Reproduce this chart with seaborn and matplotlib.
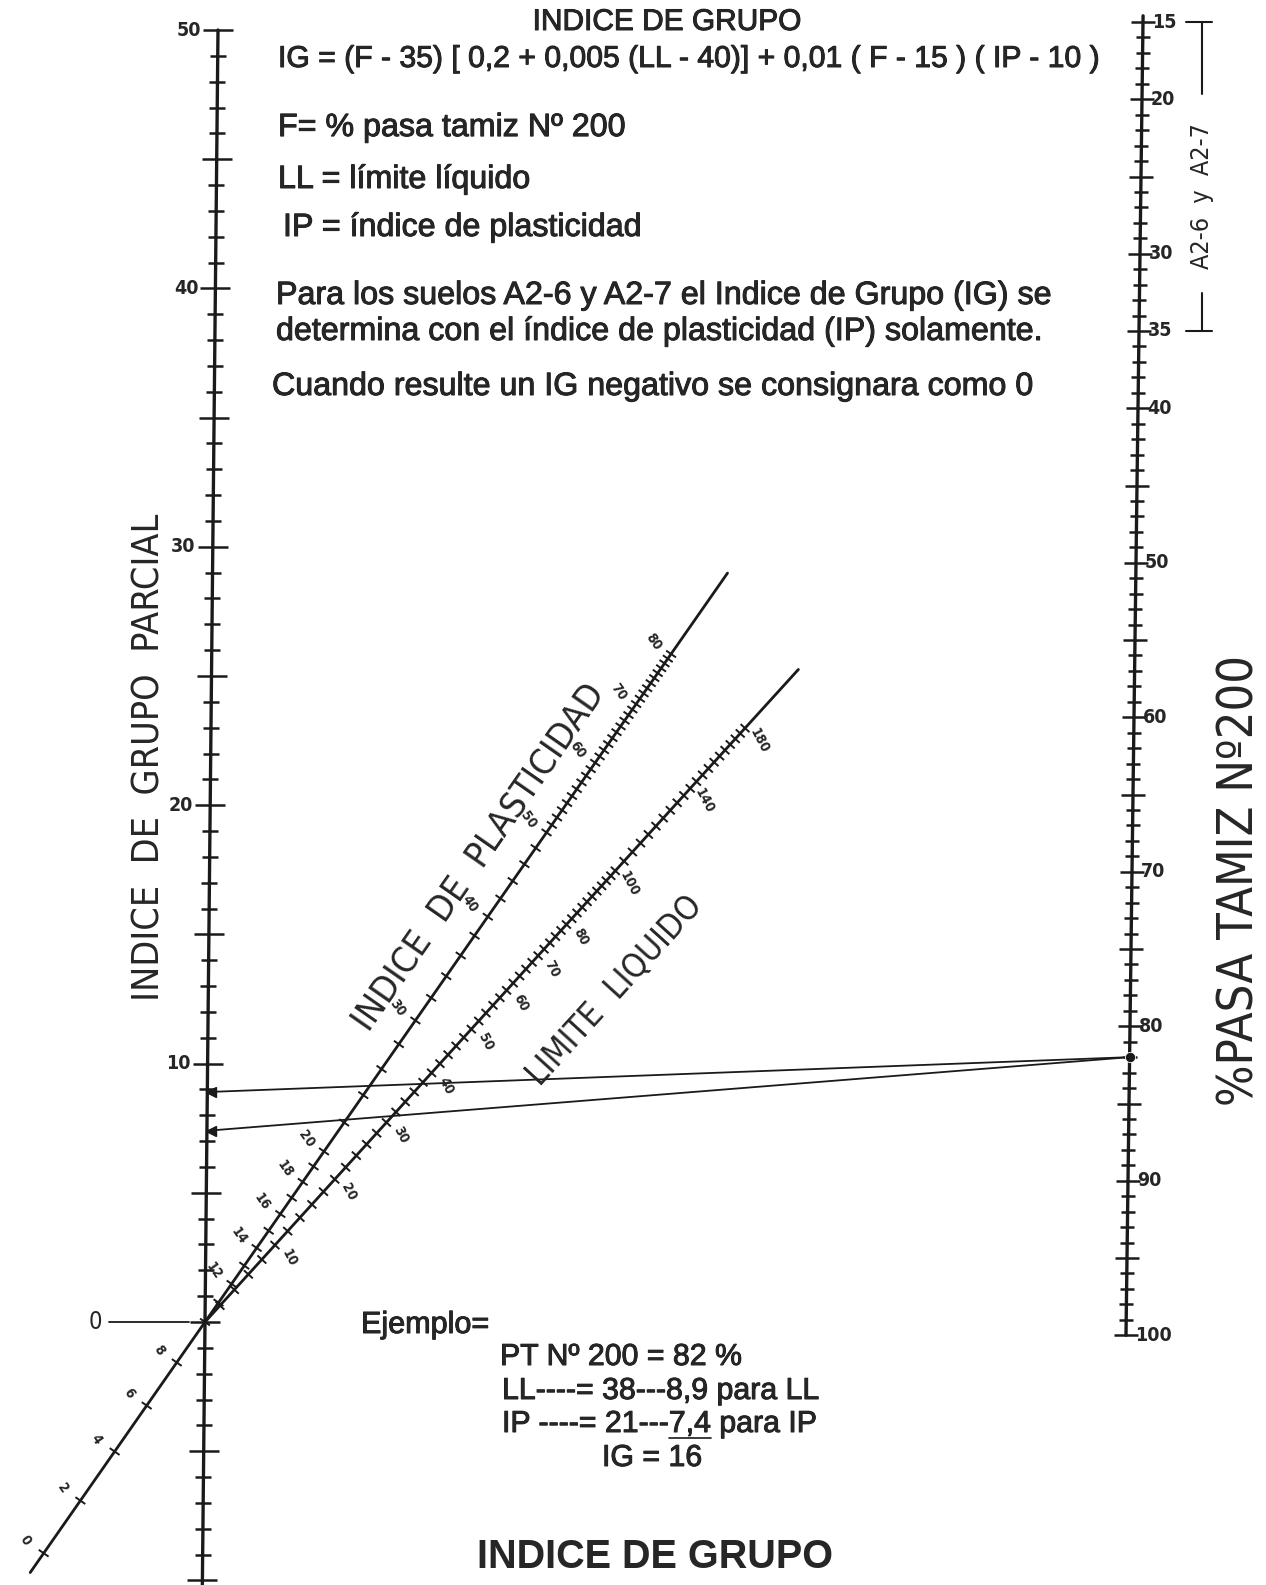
import numpy as np
import pandas as pd
import matplotlib
matplotlib.use('Agg')
import matplotlib.pyplot as plt
from matplotlib import font_manager, patheffects
from matplotlib.collections import LineCollection
import seaborn as sns

###############################################################################
# Data
###############################################################################
IG_LABELS = [50, 40, 30, 20, 10]
IG_TICKS = np.arange(-10, 51)
F_LABELS = [15, 20, 30, 35, 40, 50, 60, 70, 80, 90, 100]
F_TICKS = np.arange(15, 101)
IP_LABELS = [0, 2, 4, 6, 8, 12, 14, 16, 18, 20, 30, 40, 50, 60, 70, 80]
IP_TICKS = np.r_[np.arange(0, 10, 2), np.arange(10, 20), np.arange(20, 50, 2), np.arange(50, 81)]
LL_LABELS = [10, 20, 30, 40, 50, 60, 70, 80, 100, 140, 180]
LL_TICKS = np.r_[np.arange(2, 100, 2), np.arange(100, 181, 4)]
EX_F = 82
EX_IG = [8.9, 7.4]   # partial index read for LL=38 and IP=21

TITLE_LINES = [
    ('F= % pasa tamiz Nº 200', 278, 128),
    ('LL = límite líquido', 278, 180),
    ('IP = índice de plasticidad', 283, 228),
    ('Para los suelos A2-6 y A2-7 el Indice de Grupo (IG) se', 276, 296),
    ('determina con el índice de plasticidad (IP) solamente.', 276, 332),
    ('Cuando resulte un IG negativo se consignara como 0', 272, 387),
]
EXAMPLE_LINES = [
    ('PT Nº 200 = 82 %', 500, 1357),
    ('LL----= 38---8,9 para LL', 502, 1391),
    ('IP ----= 21---7,4 para IP', 502, 1424),
]

###############################################################################
# Scales (value -> position on the sheet)
###############################################################################
def ig_xy(v):
    v = np.asarray(v, float)
    return 205 + 0.26 * v, 1322 - 25.84 * v

def f_xy(f):
    f = np.asarray(f, float)
    return 1143 - 0.2 * (f - 15), 22 + 15.45 * (f - 15)

O = (205.0, 1322.0)
IP_POLE, K_IP = (1112.0, 22.0), 0.0151
LL_POLE, K_LL = (1098.0, 340.0), 0.0085

def diag_xy(d, pole, k):
    d = np.asarray(d, float)
    t = k * d / (1 + k * d)
    return O[0] + t * (pole[0] - O[0]), O[1] + t * (pole[1] - O[1])

def ip_xy(v):
    return diag_xy(np.asarray(v, float) - 10, IP_POLE, K_IP)

def ll_xy(v):
    return diag_xy(v, LL_POLE, K_LL)

def unit(pole):
    u = np.array([pole[0] - O[0], pole[1] - O[1]])
    u = u / np.hypot(*u)
    return u, np.array([-u[1], u[0]])   # along, lower-right normal

###############################################################################
# Setup
###############################################################################
sns.set_theme(style='white')
plt.rcParams['font.family'] = ['Liberation Sans', 'DejaVu Sans']
names = {f.name for f in font_manager.fontManager.ttflist}
if 'Liberation Sans Narrow' in names:
    NARROW = dict(family='Liberation Sans Narrow')
else:
    NARROW = dict(family='DejaVu Sans', stretch='condensed')
HEAVY = [patheffects.withStroke(linewidth=0.7, foreground='k')]

fig = plt.figure(figsize=(12.66, 15.85), dpi=100)
ax = fig.add_axes([0, 0, 1, 1])
ax.axis('off')
ax.set_xlim(0, 1266)
ax.set_ylim(1585, 0)

def line(xy, lw):
    df = pd.DataFrame({'x': xy[0], 'y': xy[1]})
    sns.lineplot(data=df, x='x', y='y', sort=False, estimator=None,
                 color='k', lw=lw, ax=ax)

def ticks(xs, ys, n, half, lw):
    segs = [[(x - n[0]*h, y - n[1]*h), (x + n[0]*h, y + n[1]*h)]
            for x, y, h in zip(xs, ys, half)]
    ax.add_collection(LineCollection(segs, colors='k', linewidths=lw))

###############################################################################
# Left axis: indice de grupo parcial
###############################################################################
line(ig_xy([-10.3, 50]), 2.4)
hx, hy = ig_xy(IG_TICKS)
half = [15 if v % 5 == 0 else 8 for v in IG_TICKS]
ticks(hx, hy, (1, 0), half, 1.8)
for v in IG_LABELS:
    x, y = ig_xy(v)
    ax.text(x - 17, y, str(v), ha='right', va='center', fontsize=14,
            fontweight='bold', **NARROW)
x0, y0 = ig_xy(0)
ax.text(x0 - 116, y0, '0', ha='left', va='center', fontsize=17, **NARROW)
ax.plot([x0 - 96, x0 - 16], [y0, y0], color='k', lw=1.3)
ax.text(150, 757, 'INDICE  DE  GRUPO  PARCIAL', rotation=90, ha='center',
        va='center', fontsize=27, **NARROW)

###############################################################################
# Right axis: % pasa tamiz 200
###############################################################################
line(f_xy([14.6, 100]), 2.4)
fx, fy = f_xy(F_TICKS)
half = [12 if v % 5 == 0 else 7 for v in F_TICKS]
ticks(fx, fy, (1, 0), half, 1.8)
for v in F_LABELS:
    x, y = f_xy(v)
    ax.text(x + 9, y, str(v), ha='left', va='center', fontsize=14,
            fontweight='bold', **NARROW)
ax.text(1240, 880, '%PASA TAMIZ Nº200', rotation=90, ha='center',
        va='center', fontsize=35, **NARROW)

# bracket A2-6 y A2-7
bx, by15, by35 = 1202, float(f_xy(15)[1]), float(f_xy(35)[1])
ax.plot([bx, bx], [by15, by15 + 72], color='k', lw=1.5)
ax.plot([bx, bx], [by35 - 38, by35], color='k', lw=1.5)
for yy in (by15, by35):
    ax.plot([bx - 16, bx + 10], [yy, yy], color='k', lw=1.5)
ax.text(bx, 196, 'A2-6  y  A2-7', rotation=90, ha='center', va='center',
        fontsize=18, **NARROW)

###############################################################################
# Diagonal scales
###############################################################################
for (xy, labels, tvals, pole, side, lo, hi, off) in (
    (ip_xy, IP_LABELS, IP_TICKS, IP_POLE, -1, -0.7, 100, 22),
    (ll_xy, LL_LABELS, LL_TICKS, LL_POLE, 1, 0, 233, 19),
):
    u, n = unit(pole)
    ang = np.degrees(np.arctan2(-u[1], u[0]))
    line(xy([lo, hi]), 2.0)
    tx, ty = xy(tvals)
    ticks(tx, ty, n, [6] * len(tvals), 1.4)
    for v in labels:
        x, y = xy(v)
        ax.text(x + side * off * n[0], y + side * off * n[1], str(v),
                rotation=ang - 110, ha='center', va='center', fontsize=10,
                fontweight='bold', **NARROW)

u, n = unit(IP_POLE)
x, y = ip_xy(44)
ax.text(x - 41 * n[0], y - 41 * n[1], 'INDICE  DE  PLASTICIDAD',
        rotation=np.degrees(np.arctan2(-u[1], u[0])), rotation_mode='anchor',
        ha='center', va='center', fontsize=26, **NARROW)
u, n = unit(LL_POLE)
x, y = ll_xy(76)
ax.text(x + 81 * n[0], y + 81 * n[1], 'LIMITE  LIQUIDO',
        rotation=np.degrees(np.arctan2(-u[1], u[0])), rotation_mode='anchor',
        ha='center', va='center', fontsize=24, **NARROW)

###############################################################################
# Example
###############################################################################
rx, ry = f_xy(EX_F)
for v in EX_IG:
    lx, ly = ig_xy(v)
    line(([rx, lx], [ry, ly]), 1.3)
    ax.plot([lx + 4], [ly], marker='<', ms=7, color='k')
sns.scatterplot(x=[float(rx)], y=[float(ry)], s=55, color='k', ax=ax,
                zorder=5)

###############################################################################
# Texts
###############################################################################
ax.text(667, 22, 'INDICE DE GRUPO', ha='center', va='center', fontsize=21.5,
        path_effects=HEAVY)
ax.text(278, 59, 'IG = (F - 35) [ 0,2 + 0,005 (LL - 40)] + 0,01 ( F - 15 ) ( IP - 10 )',
        ha='left', va='center', fontsize=21.7, path_effects=HEAVY)
for (s, x, y) in TITLE_LINES:
    ax.text(x, y, s, ha='left', va='center', fontsize=23.2, path_effects=HEAVY)
ax.text(361, 1325, 'Ejemplo=', ha='left', va='center', fontsize=22,
        path_effects=HEAVY)
for (s, x, y) in EXAMPLE_LINES:
    ax.text(x, y, s, ha='left', va='center', fontsize=21.8, path_effects=HEAVY)
ax.text(652, 1458, 'IG = 16', ha='center', va='center', fontsize=21.8,
        path_effects=HEAVY)
ax.text(655, 1557, 'INDICE DE GRUPO', ha='center', va='center', fontsize=28.5,
        fontweight='bold')

# underline below "7,4"
fig.canvas.draw()
rend = fig.canvas.get_renderer()
def text_width(s):
    t = ax.text(0, 0, s, fontsize=21.8)
    w = t.get_window_extent(rend).width
    t.remove()
    return w
s, x, y = EXAMPLE_LINES[2]
ux0, ux1 = x + text_width('IP ----= 21---'), x + text_width('IP ----= 21---7,4')
ax.plot([ux0, ux1], [y + 14, y + 14], color='k', lw=1.2)

plt.savefig('out.png', dpi=100, facecolor='w')
plt.close('all')
